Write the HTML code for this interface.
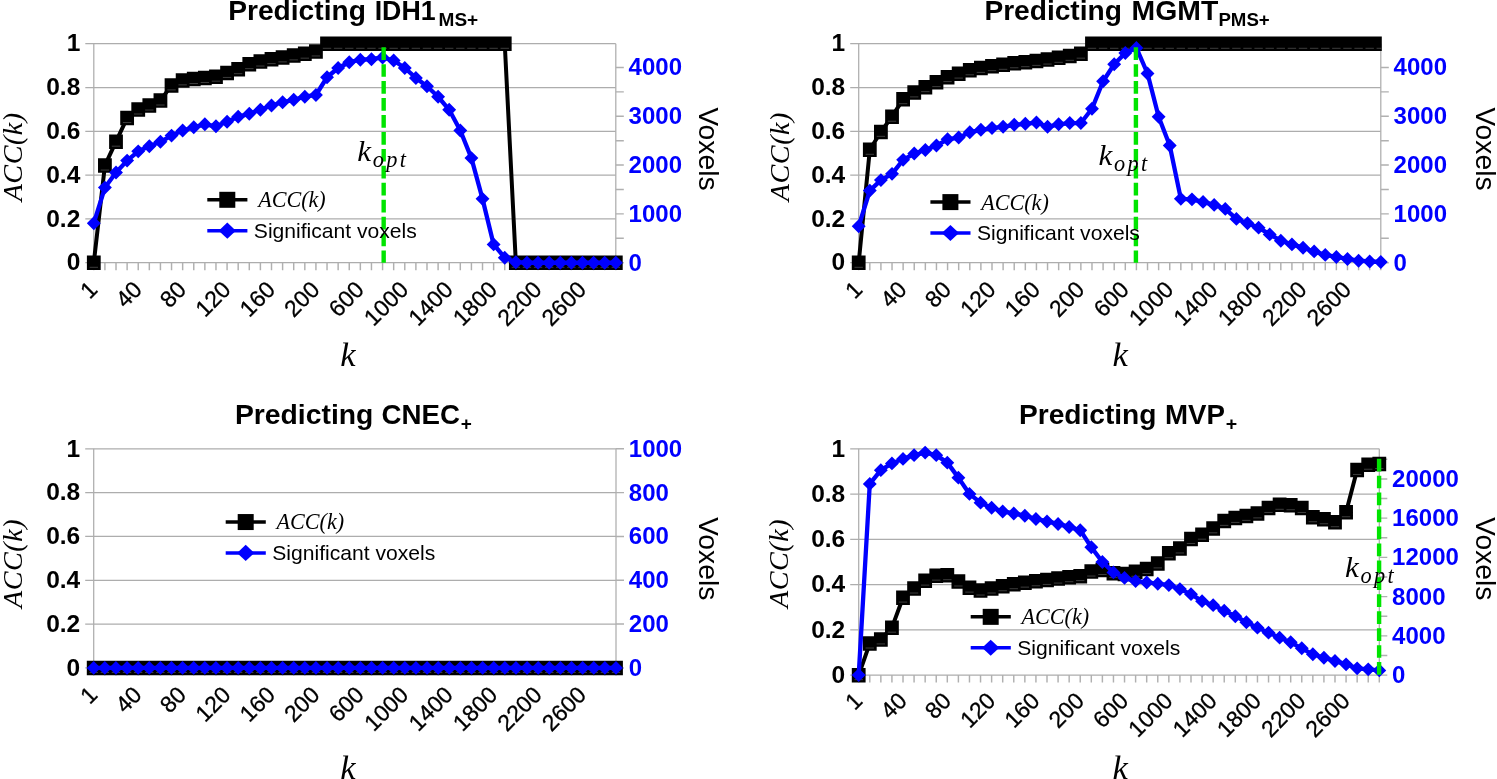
<!DOCTYPE html>
<html lang="en"><head><meta charset="utf-8"><title>Prediction accuracy and significant voxels</title>
<style>
html,body{margin:0;padding:0;background:#fff;}
body{width:1497px;height:779px;overflow:hidden;}
svg{display:block;}
</style></head><body>
<svg width="1497" height="779" viewBox="0 0 1497 779" style="filter:blur(0.35px)">
<rect width="1497" height="779" fill="#fff"/>
<line x1="85.3" y1="262.7" x2="615.8" y2="262.7" stroke="#adadad" stroke-width="1.25"/>
<line x1="85.3" y1="218.9" x2="615.8" y2="218.9" stroke="#adadad" stroke-width="1.25"/>
<line x1="85.3" y1="175.1" x2="615.8" y2="175.1" stroke="#adadad" stroke-width="1.25"/>
<line x1="85.3" y1="131.3" x2="615.8" y2="131.3" stroke="#adadad" stroke-width="1.25"/>
<line x1="85.3" y1="87.5" x2="615.8" y2="87.5" stroke="#adadad" stroke-width="1.25"/>
<line x1="85.3" y1="43.7" x2="615.8" y2="43.7" stroke="#adadad" stroke-width="1.25"/>
<line x1="93.8" y1="43.7" x2="93.8" y2="262.7" stroke="#adadad" stroke-width="1.25"/>
<line x1="615.8" y1="43.7" x2="615.8" y2="262.7" stroke="#adadad" stroke-width="1.25"/>
<path d="M93.8 262.7v7.5M104.91 262.7v7.5M116.01 262.7v7.5M127.12 262.7v7.5M138.23 262.7v7.5M149.33 262.7v7.5M160.44 262.7v7.5M171.54 262.7v7.5M182.65 262.7v7.5M193.76 262.7v7.5M204.86 262.7v7.5M215.97 262.7v7.5M227.08 262.7v7.5M238.18 262.7v7.5M249.29 262.7v7.5M260.4 262.7v7.5M271.5 262.7v7.5M282.61 262.7v7.5M293.71 262.7v7.5M304.82 262.7v7.5M315.93 262.7v7.5M327.03 262.7v7.5M338.14 262.7v7.5M349.25 262.7v7.5M360.35 262.7v7.5M371.46 262.7v7.5M382.57 262.7v7.5M393.67 262.7v7.5M404.78 262.7v7.5M415.89 262.7v7.5M426.99 262.7v7.5M438.1 262.7v7.5M449.2 262.7v7.5M460.31 262.7v7.5M471.42 262.7v7.5M482.52 262.7v7.5M493.63 262.7v7.5M504.74 262.7v7.5M515.84 262.7v7.5M526.95 262.7v7.5M538.06 262.7v7.5M549.16 262.7v7.5M560.27 262.7v7.5M571.37 262.7v7.5M582.48 262.7v7.5M593.59 262.7v7.5M604.69 262.7v7.5M615.8 262.7v7.5" stroke="#b0b0b0" stroke-width="1.45" fill="none"/>
<path d="M615.8 262.7h8M615.8 238.3h8M615.8 213.89h8M615.8 189.49h8M615.8 165.08h8M615.8 140.68h8M615.8 116.28h8M615.8 91.87h8M615.8 67.47h8" stroke="#b0b0b0" stroke-width="1.45" fill="none"/>
<text x="80.3" y="270.4" text-anchor="end" font-family="Liberation Sans, Arial, sans-serif" font-weight="bold" font-size="24.5">0</text>
<text x="80.3" y="226.6" text-anchor="end" font-family="Liberation Sans, Arial, sans-serif" font-weight="bold" font-size="24.5">0.2</text>
<text x="80.3" y="182.8" text-anchor="end" font-family="Liberation Sans, Arial, sans-serif" font-weight="bold" font-size="24.5">0.4</text>
<text x="80.3" y="139" text-anchor="end" font-family="Liberation Sans, Arial, sans-serif" font-weight="bold" font-size="24.5">0.6</text>
<text x="80.3" y="95.2" text-anchor="end" font-family="Liberation Sans, Arial, sans-serif" font-weight="bold" font-size="24.5">0.8</text>
<text x="80.3" y="51.4" text-anchor="end" font-family="Liberation Sans, Arial, sans-serif" font-weight="bold" font-size="24.5">1</text>
<text x="628.6" y="270.7" font-family="Liberation Sans, Arial, sans-serif" font-weight="bold" font-size="24" fill="#0000ff">0</text>
<text x="628.6" y="221.89" font-family="Liberation Sans, Arial, sans-serif" font-weight="bold" font-size="24" fill="#0000ff">1000</text>
<text x="628.6" y="173.08" font-family="Liberation Sans, Arial, sans-serif" font-weight="bold" font-size="24" fill="#0000ff">2000</text>
<text x="628.6" y="124.28" font-family="Liberation Sans, Arial, sans-serif" font-weight="bold" font-size="24" fill="#0000ff">3000</text>
<text x="628.6" y="75.47" font-family="Liberation Sans, Arial, sans-serif" font-weight="bold" font-size="24" fill="#0000ff">4000</text>
<text transform="translate(98.8,291) rotate(-45)" text-anchor="end" font-family="Liberation Sans, Arial, sans-serif" font-size="23" stroke="#000" stroke-width="0.3">1</text>
<text transform="translate(143.23,291) rotate(-45)" text-anchor="end" font-family="Liberation Sans, Arial, sans-serif" font-size="23" stroke="#000" stroke-width="0.3">40</text>
<text transform="translate(187.65,291) rotate(-45)" text-anchor="end" font-family="Liberation Sans, Arial, sans-serif" font-size="23" stroke="#000" stroke-width="0.3">80</text>
<text transform="translate(232.08,291) rotate(-45)" text-anchor="end" font-family="Liberation Sans, Arial, sans-serif" font-size="23" stroke="#000" stroke-width="0.3">120</text>
<text transform="translate(276.5,291) rotate(-45)" text-anchor="end" font-family="Liberation Sans, Arial, sans-serif" font-size="23" stroke="#000" stroke-width="0.3">160</text>
<text transform="translate(320.93,291) rotate(-45)" text-anchor="end" font-family="Liberation Sans, Arial, sans-serif" font-size="23" stroke="#000" stroke-width="0.3">200</text>
<text transform="translate(365.35,291) rotate(-45)" text-anchor="end" font-family="Liberation Sans, Arial, sans-serif" font-size="23" stroke="#000" stroke-width="0.3">600</text>
<text transform="translate(409.78,291) rotate(-45)" text-anchor="end" font-family="Liberation Sans, Arial, sans-serif" font-size="23" stroke="#000" stroke-width="0.3">1000</text>
<text transform="translate(454.2,291) rotate(-45)" text-anchor="end" font-family="Liberation Sans, Arial, sans-serif" font-size="23" stroke="#000" stroke-width="0.3">1400</text>
<text transform="translate(498.63,291) rotate(-45)" text-anchor="end" font-family="Liberation Sans, Arial, sans-serif" font-size="23" stroke="#000" stroke-width="0.3">1800</text>
<text transform="translate(543.06,291) rotate(-45)" text-anchor="end" font-family="Liberation Sans, Arial, sans-serif" font-size="23" stroke="#000" stroke-width="0.3">2200</text>
<text transform="translate(587.48,291) rotate(-45)" text-anchor="end" font-family="Liberation Sans, Arial, sans-serif" font-size="23" stroke="#000" stroke-width="0.3">2600</text>
<polyline points="93.8,262.7 104.91,165.46 116.01,141.59 127.12,117.94 138.23,109.4 149.33,105.46 160.44,100.42 171.54,85.31 182.65,80.27 193.76,78.96 204.86,77.86 215.97,76.55 227.08,72.83 238.18,69.1 249.29,64.07 260.4,61.44 271.5,59.03 282.61,57.28 293.71,55.31 304.82,53.56 315.93,51.37 327.03,43.7 338.14,43.7 349.25,43.7 360.35,43.7 371.46,43.7 382.57,43.7 393.67,43.7 404.78,43.7 415.89,43.7 426.99,43.7 438.1,43.7 449.2,43.7 460.31,43.7 471.42,43.7 482.52,43.7 493.63,43.7 504.74,43.7 515.84,262.7 526.95,262.7 538.06,262.7 549.16,262.7 560.27,262.7 571.37,262.7 582.48,262.7 593.59,262.7 604.69,262.7 615.8,262.7" fill="none" stroke="#000" stroke-width="4" stroke-linejoin="round"/>
<path d="M86.9 255.6h13.8v14.5h-13.8zM98.01 158.36h13.8v14.5h-13.8zM109.11 134.49h13.8v14.5h-13.8zM120.22 110.84h13.8v14.5h-13.8zM131.33 102.3h13.8v14.5h-13.8zM142.43 98.36h13.8v14.5h-13.8zM153.54 93.32h13.8v14.5h-13.8zM164.64 78.21h13.8v14.5h-13.8zM175.75 73.17h13.8v14.5h-13.8zM186.86 71.86h13.8v14.5h-13.8zM197.96 70.76h13.8v14.5h-13.8zM209.07 69.45h13.8v14.5h-13.8zM220.18 65.73h13.8v14.5h-13.8zM231.28 62h13.8v14.5h-13.8zM242.39 56.97h13.8v14.5h-13.8zM253.5 54.34h13.8v14.5h-13.8zM264.6 51.93h13.8v14.5h-13.8zM275.71 50.18h13.8v14.5h-13.8zM286.81 48.21h13.8v14.5h-13.8zM297.92 46.46h13.8v14.5h-13.8zM309.03 44.27h13.8v14.5h-13.8zM320.13 36.6h13.8v14.5h-13.8zM331.24 36.6h13.8v14.5h-13.8zM342.35 36.6h13.8v14.5h-13.8zM353.45 36.6h13.8v14.5h-13.8zM364.56 36.6h13.8v14.5h-13.8zM375.67 36.6h13.8v14.5h-13.8zM386.77 36.6h13.8v14.5h-13.8zM397.88 36.6h13.8v14.5h-13.8zM408.99 36.6h13.8v14.5h-13.8zM420.09 36.6h13.8v14.5h-13.8zM431.2 36.6h13.8v14.5h-13.8zM442.3 36.6h13.8v14.5h-13.8zM453.41 36.6h13.8v14.5h-13.8zM464.52 36.6h13.8v14.5h-13.8zM475.62 36.6h13.8v14.5h-13.8zM486.73 36.6h13.8v14.5h-13.8zM497.84 36.6h13.8v14.5h-13.8zM508.94 255.6h13.8v14.5h-13.8zM520.05 255.6h13.8v14.5h-13.8zM531.16 255.6h13.8v14.5h-13.8zM542.26 255.6h13.8v14.5h-13.8zM553.37 255.6h13.8v14.5h-13.8zM564.47 255.6h13.8v14.5h-13.8zM575.58 255.6h13.8v14.5h-13.8zM586.69 255.6h13.8v14.5h-13.8zM597.79 255.6h13.8v14.5h-13.8zM608.9 255.6h13.8v14.5h-13.8z" fill="#000"/><path d="M89.6 267.3h8.4M100.71 170.06h8.4M111.81 146.19h8.4M122.92 122.54h8.4M134.03 114h8.4M145.13 110.06h8.4M156.24 105.02h8.4M167.34 89.91h8.4M178.45 84.87h8.4M189.56 83.56h8.4M200.66 82.46h8.4M211.77 81.15h8.4M222.88 77.43h8.4M233.98 73.7h8.4M245.09 68.67h8.4M256.2 66.04h8.4M267.3 63.63h8.4M278.41 61.88h8.4M289.51 59.91h8.4M300.62 58.16h8.4M311.73 55.97h8.4M322.83 48.3h8.4M333.94 48.3h8.4M345.05 48.3h8.4M356.15 48.3h8.4M367.26 48.3h8.4M378.37 48.3h8.4M389.47 48.3h8.4M400.58 48.3h8.4M411.69 48.3h8.4M422.79 48.3h8.4M433.9 48.3h8.4M445 48.3h8.4M456.11 48.3h8.4M467.22 48.3h8.4M478.32 48.3h8.4M489.43 48.3h8.4M500.54 48.3h8.4M511.64 267.3h8.4M522.75 267.3h8.4M533.86 267.3h8.4M544.96 267.3h8.4M556.07 267.3h8.4M567.17 267.3h8.4M578.28 267.3h8.4M589.39 267.3h8.4M600.49 267.3h8.4M611.6 267.3h8.4" stroke="#484848" stroke-width="0.85" fill="none"/>
<polyline points="93.8,223.18 104.91,187.59 116.01,172.57 127.12,160.61 138.23,151.33 149.33,146.32 160.44,141.8 171.54,135.58 182.65,130.57 193.76,127.31 204.86,124.3 215.97,126.29 227.08,121.77 238.18,116.77 249.29,113.8 260.4,109.77 271.5,105.54 282.61,102.28 293.71,99.75 304.82,96.74 315.93,94.99 327.03,77.24 338.14,68.01 349.25,62.22 360.35,59.74 371.46,59.21 382.57,57.46 393.67,60.47 404.78,68.01 415.89,77.97 426.99,86.24 438.1,96.74 449.2,109.77 460.31,130.57 471.42,158.09 482.52,198.87 493.63,244.42 504.74,257.69 515.84,262.21 526.95,262.7 538.06,262.7 549.16,262.7 560.27,262.7 571.37,262.7 582.48,262.7 593.59,262.7 604.69,262.7 615.8,262.7" fill="none" stroke="#0000ff" stroke-width="4.3" stroke-linejoin="round"/>
<path d="M86.85 223.18l6.95 -6.95l6.95 6.95l-6.95 6.95zM97.96 187.59l6.95 -6.95l6.95 6.95l-6.95 6.95zM109.06 172.57l6.95 -6.95l6.95 6.95l-6.95 6.95zM120.17 160.61l6.95 -6.95l6.95 6.95l-6.95 6.95zM131.28 151.33l6.95 -6.95l6.95 6.95l-6.95 6.95zM142.38 146.32l6.95 -6.95l6.95 6.95l-6.95 6.95zM153.49 141.8l6.95 -6.95l6.95 6.95l-6.95 6.95zM164.59 135.58l6.95 -6.95l6.95 6.95l-6.95 6.95zM175.7 130.57l6.95 -6.95l6.95 6.95l-6.95 6.95zM186.81 127.31l6.95 -6.95l6.95 6.95l-6.95 6.95zM197.91 124.3l6.95 -6.95l6.95 6.95l-6.95 6.95zM209.02 126.29l6.95 -6.95l6.95 6.95l-6.95 6.95zM220.13 121.77l6.95 -6.95l6.95 6.95l-6.95 6.95zM231.23 116.77l6.95 -6.95l6.95 6.95l-6.95 6.95zM242.34 113.8l6.95 -6.95l6.95 6.95l-6.95 6.95zM253.45 109.77l6.95 -6.95l6.95 6.95l-6.95 6.95zM264.55 105.54l6.95 -6.95l6.95 6.95l-6.95 6.95zM275.66 102.28l6.95 -6.95l6.95 6.95l-6.95 6.95zM286.76 99.75l6.95 -6.95l6.95 6.95l-6.95 6.95zM297.87 96.74l6.95 -6.95l6.95 6.95l-6.95 6.95zM308.98 94.99l6.95 -6.95l6.95 6.95l-6.95 6.95zM320.08 77.24l6.95 -6.95l6.95 6.95l-6.95 6.95zM331.19 68.01l6.95 -6.95l6.95 6.95l-6.95 6.95zM342.3 62.22l6.95 -6.95l6.95 6.95l-6.95 6.95zM353.4 59.74l6.95 -6.95l6.95 6.95l-6.95 6.95zM364.51 59.21l6.95 -6.95l6.95 6.95l-6.95 6.95zM375.62 57.46l6.95 -6.95l6.95 6.95l-6.95 6.95zM386.72 60.47l6.95 -6.95l6.95 6.95l-6.95 6.95zM397.83 68.01l6.95 -6.95l6.95 6.95l-6.95 6.95zM408.94 77.97l6.95 -6.95l6.95 6.95l-6.95 6.95zM420.04 86.24l6.95 -6.95l6.95 6.95l-6.95 6.95zM431.15 96.74l6.95 -6.95l6.95 6.95l-6.95 6.95zM442.25 109.77l6.95 -6.95l6.95 6.95l-6.95 6.95zM453.36 130.57l6.95 -6.95l6.95 6.95l-6.95 6.95zM464.47 158.09l6.95 -6.95l6.95 6.95l-6.95 6.95zM475.57 198.87l6.95 -6.95l6.95 6.95l-6.95 6.95zM486.68 244.42l6.95 -6.95l6.95 6.95l-6.95 6.95zM497.79 257.69l6.95 -6.95l6.95 6.95l-6.95 6.95zM508.89 262.21l6.95 -6.95l6.95 6.95l-6.95 6.95zM520 262.7l6.95 -6.95l6.95 6.95l-6.95 6.95zM531.11 262.7l6.95 -6.95l6.95 6.95l-6.95 6.95zM542.21 262.7l6.95 -6.95l6.95 6.95l-6.95 6.95zM553.32 262.7l6.95 -6.95l6.95 6.95l-6.95 6.95zM564.42 262.7l6.95 -6.95l6.95 6.95l-6.95 6.95zM575.53 262.7l6.95 -6.95l6.95 6.95l-6.95 6.95zM586.64 262.7l6.95 -6.95l6.95 6.95l-6.95 6.95zM597.74 262.7l6.95 -6.95l6.95 6.95l-6.95 6.95zM608.85 262.7l6.95 -6.95l6.95 6.95l-6.95 6.95z" fill="#0000ff"/>
<line x1="383.67" y1="47.2" x2="383.67" y2="262.7" stroke="#00e400" stroke-width="4.4" stroke-dasharray="12.7 4.25"/>
<text transform="translate(357.2,160.6) scale(1.08,1)" font-family="Liberation Serif, Times New Roman, serif" font-style="italic" font-size="28.7">k</text>
<text x="372.8" y="166.5" font-family="Liberation Serif, Times New Roman, serif" font-style="italic" font-size="22.3" letter-spacing="2.3">opt</text>
<line x1="207.3" y1="199.8" x2="247.4" y2="199.8" stroke="#000" stroke-width="3.5"/>
<rect x="219.3" y="191.8" width="16" height="16" fill="#000"/>
<text x="258.2" y="207.2" font-family="Liberation Serif, Times New Roman, serif" font-style="italic" font-size="22.1">ACC(k)</text>
<line x1="207.3" y1="230.7" x2="247.4" y2="230.7" stroke="#0000ff" stroke-width="3.5"/>
<path d="M218.7 230.7l8.6 -8.1l8.6 8.1l-8.6 8.1z" fill="#0000ff"/>
<text x="253.85" y="238.1" font-family="Liberation Sans, Arial, sans-serif" font-size="21.1">Significant voxels</text>
<text transform="translate(228.23,20.3) scale(1.0000,1)" font-family="Liberation Sans, Arial, sans-serif" font-weight="bold" font-size="28.15">Predicting</text>
<text transform="translate(374.66,20.3) scale(0.9510,1)" font-family="Liberation Sans, Arial, sans-serif" font-weight="bold" font-size="28.15">IDH1</text>
<text transform="translate(438.56,26.05) scale(1.0237,1)" font-family="Liberation Sans, Arial, sans-serif" font-weight="bold" font-size="18.6">MS+</text>
<text transform="translate(22.2,156.8) rotate(-90)" text-anchor="middle" font-family="Liberation Serif, Times New Roman, serif" font-style="italic" font-size="28.2" letter-spacing="0.5">ACC(k)</text>
<text x="340.3" y="365.8" font-family="Liberation Serif, Times New Roman, serif" font-style="italic" font-size="34.5">k</text>
<text transform="translate(698.6,148.9) rotate(90)" text-anchor="middle" font-family="Liberation Sans, Arial, sans-serif" font-size="28.3">Voxels</text>
<line x1="850.2" y1="262.7" x2="1380.8" y2="262.7" stroke="#adadad" stroke-width="1.25"/>
<line x1="850.2" y1="218.9" x2="1380.8" y2="218.9" stroke="#adadad" stroke-width="1.25"/>
<line x1="850.2" y1="175.1" x2="1380.8" y2="175.1" stroke="#adadad" stroke-width="1.25"/>
<line x1="850.2" y1="131.3" x2="1380.8" y2="131.3" stroke="#adadad" stroke-width="1.25"/>
<line x1="850.2" y1="87.5" x2="1380.8" y2="87.5" stroke="#adadad" stroke-width="1.25"/>
<line x1="850.2" y1="43.7" x2="1380.8" y2="43.7" stroke="#adadad" stroke-width="1.25"/>
<line x1="858.7" y1="43.7" x2="858.7" y2="262.7" stroke="#adadad" stroke-width="1.25"/>
<line x1="1380.8" y1="43.7" x2="1380.8" y2="262.7" stroke="#adadad" stroke-width="1.25"/>
<path d="M858.7 262.7v7.5M869.81 262.7v7.5M880.92 262.7v7.5M892.03 262.7v7.5M903.13 262.7v7.5M914.24 262.7v7.5M925.35 262.7v7.5M936.46 262.7v7.5M947.57 262.7v7.5M958.68 262.7v7.5M969.79 262.7v7.5M980.89 262.7v7.5M992 262.7v7.5M1003.11 262.7v7.5M1014.22 262.7v7.5M1025.33 262.7v7.5M1036.44 262.7v7.5M1047.54 262.7v7.5M1058.65 262.7v7.5M1069.76 262.7v7.5M1080.87 262.7v7.5M1091.98 262.7v7.5M1103.09 262.7v7.5M1114.2 262.7v7.5M1125.3 262.7v7.5M1136.41 262.7v7.5M1147.52 262.7v7.5M1158.63 262.7v7.5M1169.74 262.7v7.5M1180.85 262.7v7.5M1191.96 262.7v7.5M1203.06 262.7v7.5M1214.17 262.7v7.5M1225.28 262.7v7.5M1236.39 262.7v7.5M1247.5 262.7v7.5M1258.61 262.7v7.5M1269.71 262.7v7.5M1280.82 262.7v7.5M1291.93 262.7v7.5M1303.04 262.7v7.5M1314.15 262.7v7.5M1325.26 262.7v7.5M1336.37 262.7v7.5M1347.47 262.7v7.5M1358.58 262.7v7.5M1369.69 262.7v7.5M1380.8 262.7v7.5" stroke="#b0b0b0" stroke-width="1.45" fill="none"/>
<path d="M1380.8 262.7h8M1380.8 238.3h8M1380.8 213.89h8M1380.8 189.49h8M1380.8 165.08h8M1380.8 140.68h8M1380.8 116.28h8M1380.8 91.87h8M1380.8 67.47h8" stroke="#b0b0b0" stroke-width="1.45" fill="none"/>
<text x="845.2" y="270.4" text-anchor="end" font-family="Liberation Sans, Arial, sans-serif" font-weight="bold" font-size="24.5">0</text>
<text x="845.2" y="226.6" text-anchor="end" font-family="Liberation Sans, Arial, sans-serif" font-weight="bold" font-size="24.5">0.2</text>
<text x="845.2" y="182.8" text-anchor="end" font-family="Liberation Sans, Arial, sans-serif" font-weight="bold" font-size="24.5">0.4</text>
<text x="845.2" y="139" text-anchor="end" font-family="Liberation Sans, Arial, sans-serif" font-weight="bold" font-size="24.5">0.6</text>
<text x="845.2" y="95.2" text-anchor="end" font-family="Liberation Sans, Arial, sans-serif" font-weight="bold" font-size="24.5">0.8</text>
<text x="845.2" y="51.4" text-anchor="end" font-family="Liberation Sans, Arial, sans-serif" font-weight="bold" font-size="24.5">1</text>
<text x="1393.6" y="270.7" font-family="Liberation Sans, Arial, sans-serif" font-weight="bold" font-size="24" fill="#0000ff">0</text>
<text x="1393.6" y="221.89" font-family="Liberation Sans, Arial, sans-serif" font-weight="bold" font-size="24" fill="#0000ff">1000</text>
<text x="1393.6" y="173.08" font-family="Liberation Sans, Arial, sans-serif" font-weight="bold" font-size="24" fill="#0000ff">2000</text>
<text x="1393.6" y="124.28" font-family="Liberation Sans, Arial, sans-serif" font-weight="bold" font-size="24" fill="#0000ff">3000</text>
<text x="1393.6" y="75.47" font-family="Liberation Sans, Arial, sans-serif" font-weight="bold" font-size="24" fill="#0000ff">4000</text>
<text transform="translate(863.7,291) rotate(-45)" text-anchor="end" font-family="Liberation Sans, Arial, sans-serif" font-size="23" stroke="#000" stroke-width="0.3">1</text>
<text transform="translate(908.13,291) rotate(-45)" text-anchor="end" font-family="Liberation Sans, Arial, sans-serif" font-size="23" stroke="#000" stroke-width="0.3">40</text>
<text transform="translate(952.57,291) rotate(-45)" text-anchor="end" font-family="Liberation Sans, Arial, sans-serif" font-size="23" stroke="#000" stroke-width="0.3">80</text>
<text transform="translate(997,291) rotate(-45)" text-anchor="end" font-family="Liberation Sans, Arial, sans-serif" font-size="23" stroke="#000" stroke-width="0.3">120</text>
<text transform="translate(1041.44,291) rotate(-45)" text-anchor="end" font-family="Liberation Sans, Arial, sans-serif" font-size="23" stroke="#000" stroke-width="0.3">160</text>
<text transform="translate(1085.87,291) rotate(-45)" text-anchor="end" font-family="Liberation Sans, Arial, sans-serif" font-size="23" stroke="#000" stroke-width="0.3">200</text>
<text transform="translate(1130.3,291) rotate(-45)" text-anchor="end" font-family="Liberation Sans, Arial, sans-serif" font-size="23" stroke="#000" stroke-width="0.3">600</text>
<text transform="translate(1174.74,291) rotate(-45)" text-anchor="end" font-family="Liberation Sans, Arial, sans-serif" font-size="23" stroke="#000" stroke-width="0.3">1000</text>
<text transform="translate(1219.17,291) rotate(-45)" text-anchor="end" font-family="Liberation Sans, Arial, sans-serif" font-size="23" stroke="#000" stroke-width="0.3">1400</text>
<text transform="translate(1263.61,291) rotate(-45)" text-anchor="end" font-family="Liberation Sans, Arial, sans-serif" font-size="23" stroke="#000" stroke-width="0.3">1800</text>
<text transform="translate(1308.04,291) rotate(-45)" text-anchor="end" font-family="Liberation Sans, Arial, sans-serif" font-size="23" stroke="#000" stroke-width="0.3">2200</text>
<text transform="translate(1352.47,291) rotate(-45)" text-anchor="end" font-family="Liberation Sans, Arial, sans-serif" font-size="23" stroke="#000" stroke-width="0.3">2600</text>
<polyline points="858.7,262.7 869.81,149.7 880.92,131.74 892.03,116.63 903.13,99.11 914.24,92.32 925.35,87.06 936.46,82.03 947.57,76.99 958.68,73.48 969.79,70.2 980.89,67.79 992,66.04 1003.11,64.72 1014.22,63.19 1025.33,62.1 1036.44,60.78 1047.54,59.47 1058.65,57.72 1069.76,55.75 1080.87,53.56 1091.98,43.7 1103.09,43.7 1114.2,43.7 1125.3,43.7 1136.41,43.7 1147.52,43.7 1158.63,43.7 1169.74,43.7 1180.85,43.7 1191.96,43.7 1203.06,43.7 1214.17,43.7 1225.28,43.7 1236.39,43.7 1247.5,43.7 1258.61,43.7 1269.71,43.7 1280.82,43.7 1291.93,43.7 1303.04,43.7 1314.15,43.7 1325.26,43.7 1336.37,43.7 1347.47,43.7 1358.58,43.7 1369.69,43.7 1380.8,43.7" fill="none" stroke="#000" stroke-width="4" stroke-linejoin="round"/>
<clipPath id="p2c"><rect x="0" y="0" width="1381.8" height="779"/></clipPath>
<g clip-path="url(#p2c)"><path d="M851.8 255.6h13.8v14.5h-13.8zM862.91 142.6h13.8v14.5h-13.8zM874.02 124.64h13.8v14.5h-13.8zM885.13 109.53h13.8v14.5h-13.8zM896.23 92.01h13.8v14.5h-13.8zM907.34 85.22h13.8v14.5h-13.8zM918.45 79.96h13.8v14.5h-13.8zM929.56 74.93h13.8v14.5h-13.8zM940.67 69.89h13.8v14.5h-13.8zM951.78 66.38h13.8v14.5h-13.8zM962.89 63.1h13.8v14.5h-13.8zM973.99 60.69h13.8v14.5h-13.8zM985.1 58.94h13.8v14.5h-13.8zM996.21 57.62h13.8v14.5h-13.8zM1007.32 56.09h13.8v14.5h-13.8zM1018.43 55h13.8v14.5h-13.8zM1029.54 53.68h13.8v14.5h-13.8zM1040.64 52.37h13.8v14.5h-13.8zM1051.75 50.62h13.8v14.5h-13.8zM1062.86 48.65h13.8v14.5h-13.8zM1073.97 46.46h13.8v14.5h-13.8zM1085.08 36.6h13.8v14.5h-13.8zM1096.19 36.6h13.8v14.5h-13.8zM1107.3 36.6h13.8v14.5h-13.8zM1118.4 36.6h13.8v14.5h-13.8zM1129.51 36.6h13.8v14.5h-13.8zM1140.62 36.6h13.8v14.5h-13.8zM1151.73 36.6h13.8v14.5h-13.8zM1162.84 36.6h13.8v14.5h-13.8zM1173.95 36.6h13.8v14.5h-13.8zM1185.06 36.6h13.8v14.5h-13.8zM1196.16 36.6h13.8v14.5h-13.8zM1207.27 36.6h13.8v14.5h-13.8zM1218.38 36.6h13.8v14.5h-13.8zM1229.49 36.6h13.8v14.5h-13.8zM1240.6 36.6h13.8v14.5h-13.8zM1251.71 36.6h13.8v14.5h-13.8zM1262.81 36.6h13.8v14.5h-13.8zM1273.92 36.6h13.8v14.5h-13.8zM1285.03 36.6h13.8v14.5h-13.8zM1296.14 36.6h13.8v14.5h-13.8zM1307.25 36.6h13.8v14.5h-13.8zM1318.36 36.6h13.8v14.5h-13.8zM1329.47 36.6h13.8v14.5h-13.8zM1340.57 36.6h13.8v14.5h-13.8zM1351.68 36.6h13.8v14.5h-13.8zM1362.79 36.6h13.8v14.5h-13.8zM1373.9 36.6h13.8v14.5h-13.8z" fill="#000"/><path d="M854.5 267.3h8.4M865.61 154.3h8.4M876.72 136.34h8.4M887.83 121.23h8.4M898.93 103.71h8.4M910.04 96.92h8.4M921.15 91.66h8.4M932.26 86.62h8.4M943.37 81.59h8.4M954.48 78.08h8.4M965.59 74.8h8.4M976.69 72.39h8.4M987.8 70.64h8.4M998.91 69.32h8.4M1010.02 67.79h8.4M1021.13 66.7h8.4M1032.24 65.38h8.4M1043.34 64.07h8.4M1054.45 62.32h8.4M1065.56 60.35h8.4M1076.67 58.16h8.4M1087.78 48.3h8.4M1098.89 48.3h8.4M1110 48.3h8.4M1121.1 48.3h8.4M1132.21 48.3h8.4M1143.32 48.3h8.4M1154.43 48.3h8.4M1165.54 48.3h8.4M1176.65 48.3h8.4M1187.76 48.3h8.4M1198.86 48.3h8.4M1209.97 48.3h8.4M1221.08 48.3h8.4M1232.19 48.3h8.4M1243.3 48.3h8.4M1254.41 48.3h8.4M1265.51 48.3h8.4M1276.62 48.3h8.4M1287.73 48.3h8.4M1298.84 48.3h8.4M1309.95 48.3h8.4M1321.06 48.3h8.4M1332.17 48.3h8.4M1343.27 48.3h8.4M1354.38 48.3h8.4M1365.49 48.3h8.4M1376.6 48.3h8.4" stroke="#484848" stroke-width="0.85" fill="none"/></g>
<polyline points="858.7,226.24 869.81,190.61 880.92,180.11 892.03,173.84 903.13,159.84 914.24,153.57 925.35,150.06 936.46,145.54 947.57,139.32 958.68,137.57 969.79,132.32 980.89,129.79 992,128.04 1003.11,126.78 1014.22,124.79 1025.33,123.77 1036.44,122.55 1047.54,126.78 1058.65,124.3 1069.76,123.04 1080.87,123.04 1091.98,108.79 1103.09,81.23 1114.2,64.22 1125.3,52.94 1136.41,47.93 1147.52,73.5 1158.63,116.77 1169.74,145.54 1180.85,198.87 1191.96,199.36 1203.06,201.89 1214.17,204.9 1225.28,208.89 1236.39,218.9 1247.5,223.18 1258.61,227.65 1269.71,234.41 1280.82,240.68 1291.93,244.42 1303.04,247.68 1314.15,251.42 1325.26,254.92 1336.37,256.96 1347.47,258.96 1358.58,260.71 1369.69,261.44 1380.8,261.97" fill="none" stroke="#0000ff" stroke-width="4.3" stroke-linejoin="round"/>
<path d="M851.75 226.24l6.95 -6.95l6.95 6.95l-6.95 6.95zM862.86 190.61l6.95 -6.95l6.95 6.95l-6.95 6.95zM873.97 180.11l6.95 -6.95l6.95 6.95l-6.95 6.95zM885.08 173.84l6.95 -6.95l6.95 6.95l-6.95 6.95zM896.18 159.84l6.95 -6.95l6.95 6.95l-6.95 6.95zM907.29 153.57l6.95 -6.95l6.95 6.95l-6.95 6.95zM918.4 150.06l6.95 -6.95l6.95 6.95l-6.95 6.95zM929.51 145.54l6.95 -6.95l6.95 6.95l-6.95 6.95zM940.62 139.32l6.95 -6.95l6.95 6.95l-6.95 6.95zM951.73 137.57l6.95 -6.95l6.95 6.95l-6.95 6.95zM962.84 132.32l6.95 -6.95l6.95 6.95l-6.95 6.95zM973.94 129.79l6.95 -6.95l6.95 6.95l-6.95 6.95zM985.05 128.04l6.95 -6.95l6.95 6.95l-6.95 6.95zM996.16 126.78l6.95 -6.95l6.95 6.95l-6.95 6.95zM1007.27 124.79l6.95 -6.95l6.95 6.95l-6.95 6.95zM1018.38 123.77l6.95 -6.95l6.95 6.95l-6.95 6.95zM1029.49 122.55l6.95 -6.95l6.95 6.95l-6.95 6.95zM1040.59 126.78l6.95 -6.95l6.95 6.95l-6.95 6.95zM1051.7 124.3l6.95 -6.95l6.95 6.95l-6.95 6.95zM1062.81 123.04l6.95 -6.95l6.95 6.95l-6.95 6.95zM1073.92 123.04l6.95 -6.95l6.95 6.95l-6.95 6.95zM1085.03 108.79l6.95 -6.95l6.95 6.95l-6.95 6.95zM1096.14 81.23l6.95 -6.95l6.95 6.95l-6.95 6.95zM1107.25 64.22l6.95 -6.95l6.95 6.95l-6.95 6.95zM1118.35 52.94l6.95 -6.95l6.95 6.95l-6.95 6.95zM1129.46 47.93l6.95 -6.95l6.95 6.95l-6.95 6.95zM1140.57 73.5l6.95 -6.95l6.95 6.95l-6.95 6.95zM1151.68 116.77l6.95 -6.95l6.95 6.95l-6.95 6.95zM1162.79 145.54l6.95 -6.95l6.95 6.95l-6.95 6.95zM1173.9 198.87l6.95 -6.95l6.95 6.95l-6.95 6.95zM1185.01 199.36l6.95 -6.95l6.95 6.95l-6.95 6.95zM1196.11 201.89l6.95 -6.95l6.95 6.95l-6.95 6.95zM1207.22 204.9l6.95 -6.95l6.95 6.95l-6.95 6.95zM1218.33 208.89l6.95 -6.95l6.95 6.95l-6.95 6.95zM1229.44 218.9l6.95 -6.95l6.95 6.95l-6.95 6.95zM1240.55 223.18l6.95 -6.95l6.95 6.95l-6.95 6.95zM1251.66 227.65l6.95 -6.95l6.95 6.95l-6.95 6.95zM1262.76 234.41l6.95 -6.95l6.95 6.95l-6.95 6.95zM1273.87 240.68l6.95 -6.95l6.95 6.95l-6.95 6.95zM1284.98 244.42l6.95 -6.95l6.95 6.95l-6.95 6.95zM1296.09 247.68l6.95 -6.95l6.95 6.95l-6.95 6.95zM1307.2 251.42l6.95 -6.95l6.95 6.95l-6.95 6.95zM1318.31 254.92l6.95 -6.95l6.95 6.95l-6.95 6.95zM1329.42 256.96l6.95 -6.95l6.95 6.95l-6.95 6.95zM1340.52 258.96l6.95 -6.95l6.95 6.95l-6.95 6.95zM1351.63 260.71l6.95 -6.95l6.95 6.95l-6.95 6.95zM1362.74 261.44l6.95 -6.95l6.95 6.95l-6.95 6.95zM1373.85 261.97l6.95 -6.95l6.95 6.95l-6.95 6.95z" fill="#0000ff"/>
<line x1="1135.91" y1="47.2" x2="1135.91" y2="262.7" stroke="#00e400" stroke-width="4.4" stroke-dasharray="12.7 4.25"/>
<text transform="translate(1098.4,164.7) scale(1.08,1)" font-family="Liberation Serif, Times New Roman, serif" font-style="italic" font-size="28.7">k</text>
<text x="1114" y="170.6" font-family="Liberation Serif, Times New Roman, serif" font-style="italic" font-size="22.3" letter-spacing="2.3">opt</text>
<line x1="930.4" y1="202.1" x2="970.5" y2="202.1" stroke="#000" stroke-width="3.5"/>
<rect x="942.4" y="194.1" width="16" height="16" fill="#000"/>
<text x="981.3" y="209.5" font-family="Liberation Serif, Times New Roman, serif" font-style="italic" font-size="22.1">ACC(k)</text>
<line x1="930.4" y1="233" x2="970.5" y2="233" stroke="#0000ff" stroke-width="3.5"/>
<path d="M941.8 233l8.6 -8.1l8.6 8.1l-8.6 8.1z" fill="#0000ff"/>
<text x="976.95" y="240.4" font-family="Liberation Sans, Arial, sans-serif" font-size="21.1">Significant voxels</text>
<text transform="translate(984.42,20.3) scale(0.9993,1)" font-family="Liberation Sans, Arial, sans-serif" font-weight="bold" font-size="28.15">Predicting</text>
<text transform="translate(1131.55,20.3) scale(1.0085,1)" font-family="Liberation Sans, Arial, sans-serif" font-weight="bold" font-size="28.15">MGMT</text>
<text transform="translate(1218.39,26.05) scale(1.0043,1)" font-family="Liberation Sans, Arial, sans-serif" font-weight="bold" font-size="18.6">PMS+</text>
<text transform="translate(788.8,156.6) rotate(-90)" text-anchor="middle" font-family="Liberation Serif, Times New Roman, serif" font-style="italic" font-size="28.2" letter-spacing="0.5">ACC(k)</text>
<text x="1112.5" y="365.8" font-family="Liberation Serif, Times New Roman, serif" font-style="italic" font-size="34.5">k</text>
<text transform="translate(1475.5,148.9) rotate(90)" text-anchor="middle" font-family="Liberation Sans, Arial, sans-serif" font-size="28.3">Voxels</text>
<line x1="85.2" y1="667.9" x2="616" y2="667.9" stroke="#adadad" stroke-width="1.25"/>
<line x1="85.2" y1="624.08" x2="616" y2="624.08" stroke="#adadad" stroke-width="1.25"/>
<line x1="85.2" y1="580.26" x2="616" y2="580.26" stroke="#adadad" stroke-width="1.25"/>
<line x1="85.2" y1="536.44" x2="616" y2="536.44" stroke="#adadad" stroke-width="1.25"/>
<line x1="85.2" y1="492.62" x2="616" y2="492.62" stroke="#adadad" stroke-width="1.25"/>
<line x1="85.2" y1="448.8" x2="616" y2="448.8" stroke="#adadad" stroke-width="1.25"/>
<line x1="93.7" y1="448.8" x2="93.7" y2="667.9" stroke="#adadad" stroke-width="1.25"/>
<line x1="616" y1="448.8" x2="616" y2="667.9" stroke="#adadad" stroke-width="1.25"/>
<path d="M93.7 667.9v7.5M104.81 667.9v7.5M115.93 667.9v7.5M127.04 667.9v7.5M138.15 667.9v7.5M149.26 667.9v7.5M160.38 667.9v7.5M171.49 667.9v7.5M182.6 667.9v7.5M193.71 667.9v7.5M204.83 667.9v7.5M215.94 667.9v7.5M227.05 667.9v7.5M238.17 667.9v7.5M249.28 667.9v7.5M260.39 667.9v7.5M271.5 667.9v7.5M282.62 667.9v7.5M293.73 667.9v7.5M304.84 667.9v7.5M315.96 667.9v7.5M327.07 667.9v7.5M338.18 667.9v7.5M349.29 667.9v7.5M360.41 667.9v7.5M371.52 667.9v7.5M382.63 667.9v7.5M393.74 667.9v7.5M404.86 667.9v7.5M415.97 667.9v7.5M427.08 667.9v7.5M438.2 667.9v7.5M449.31 667.9v7.5M460.42 667.9v7.5M471.53 667.9v7.5M482.65 667.9v7.5M493.76 667.9v7.5M504.87 667.9v7.5M515.99 667.9v7.5M527.1 667.9v7.5M538.21 667.9v7.5M549.32 667.9v7.5M560.44 667.9v7.5M571.55 667.9v7.5M582.66 667.9v7.5M593.77 667.9v7.5M604.89 667.9v7.5M616 667.9v7.5" stroke="#b0b0b0" stroke-width="1.45" fill="none"/>
<path d="M616 667.9h8M616 624.08h8M616 580.26h8M616 536.44h8M616 492.62h8M616 448.8h8" stroke="#b0b0b0" stroke-width="1.45" fill="none"/>
<text x="80.2" y="675.6" text-anchor="end" font-family="Liberation Sans, Arial, sans-serif" font-weight="bold" font-size="24.5">0</text>
<text x="80.2" y="631.78" text-anchor="end" font-family="Liberation Sans, Arial, sans-serif" font-weight="bold" font-size="24.5">0.2</text>
<text x="80.2" y="587.96" text-anchor="end" font-family="Liberation Sans, Arial, sans-serif" font-weight="bold" font-size="24.5">0.4</text>
<text x="80.2" y="544.14" text-anchor="end" font-family="Liberation Sans, Arial, sans-serif" font-weight="bold" font-size="24.5">0.6</text>
<text x="80.2" y="500.32" text-anchor="end" font-family="Liberation Sans, Arial, sans-serif" font-weight="bold" font-size="24.5">0.8</text>
<text x="80.2" y="456.5" text-anchor="end" font-family="Liberation Sans, Arial, sans-serif" font-weight="bold" font-size="24.5">1</text>
<text x="628.8" y="675.9" font-family="Liberation Sans, Arial, sans-serif" font-weight="bold" font-size="24" fill="#0000ff">0</text>
<text x="628.8" y="632.08" font-family="Liberation Sans, Arial, sans-serif" font-weight="bold" font-size="24" fill="#0000ff">200</text>
<text x="628.8" y="588.26" font-family="Liberation Sans, Arial, sans-serif" font-weight="bold" font-size="24" fill="#0000ff">400</text>
<text x="628.8" y="544.44" font-family="Liberation Sans, Arial, sans-serif" font-weight="bold" font-size="24" fill="#0000ff">600</text>
<text x="628.8" y="500.62" font-family="Liberation Sans, Arial, sans-serif" font-weight="bold" font-size="24" fill="#0000ff">800</text>
<text x="628.8" y="456.8" font-family="Liberation Sans, Arial, sans-serif" font-weight="bold" font-size="24" fill="#0000ff">1000</text>
<text transform="translate(98.7,696.2) rotate(-45)" text-anchor="end" font-family="Liberation Sans, Arial, sans-serif" font-size="23" stroke="#000" stroke-width="0.3">1</text>
<text transform="translate(143.15,696.2) rotate(-45)" text-anchor="end" font-family="Liberation Sans, Arial, sans-serif" font-size="23" stroke="#000" stroke-width="0.3">40</text>
<text transform="translate(187.6,696.2) rotate(-45)" text-anchor="end" font-family="Liberation Sans, Arial, sans-serif" font-size="23" stroke="#000" stroke-width="0.3">80</text>
<text transform="translate(232.05,696.2) rotate(-45)" text-anchor="end" font-family="Liberation Sans, Arial, sans-serif" font-size="23" stroke="#000" stroke-width="0.3">120</text>
<text transform="translate(276.5,696.2) rotate(-45)" text-anchor="end" font-family="Liberation Sans, Arial, sans-serif" font-size="23" stroke="#000" stroke-width="0.3">160</text>
<text transform="translate(320.96,696.2) rotate(-45)" text-anchor="end" font-family="Liberation Sans, Arial, sans-serif" font-size="23" stroke="#000" stroke-width="0.3">200</text>
<text transform="translate(365.41,696.2) rotate(-45)" text-anchor="end" font-family="Liberation Sans, Arial, sans-serif" font-size="23" stroke="#000" stroke-width="0.3">600</text>
<text transform="translate(409.86,696.2) rotate(-45)" text-anchor="end" font-family="Liberation Sans, Arial, sans-serif" font-size="23" stroke="#000" stroke-width="0.3">1000</text>
<text transform="translate(454.31,696.2) rotate(-45)" text-anchor="end" font-family="Liberation Sans, Arial, sans-serif" font-size="23" stroke="#000" stroke-width="0.3">1400</text>
<text transform="translate(498.76,696.2) rotate(-45)" text-anchor="end" font-family="Liberation Sans, Arial, sans-serif" font-size="23" stroke="#000" stroke-width="0.3">1800</text>
<text transform="translate(543.21,696.2) rotate(-45)" text-anchor="end" font-family="Liberation Sans, Arial, sans-serif" font-size="23" stroke="#000" stroke-width="0.3">2200</text>
<text transform="translate(587.66,696.2) rotate(-45)" text-anchor="end" font-family="Liberation Sans, Arial, sans-serif" font-size="23" stroke="#000" stroke-width="0.3">2600</text>
<polyline points="93.7,667.9 104.81,667.9 115.93,667.9 127.04,667.9 138.15,667.9 149.26,667.9 160.38,667.9 171.49,667.9 182.6,667.9 193.71,667.9 204.83,667.9 215.94,667.9 227.05,667.9 238.17,667.9 249.28,667.9 260.39,667.9 271.5,667.9 282.62,667.9 293.73,667.9 304.84,667.9 315.96,667.9 327.07,667.9 338.18,667.9 349.29,667.9 360.41,667.9 371.52,667.9 382.63,667.9 393.74,667.9 404.86,667.9 415.97,667.9 427.08,667.9 438.2,667.9 449.31,667.9 460.42,667.9 471.53,667.9 482.65,667.9 493.76,667.9 504.87,667.9 515.99,667.9 527.1,667.9 538.21,667.9 549.32,667.9 560.44,667.9 571.55,667.9 582.66,667.9 593.77,667.9 604.89,667.9 616,667.9" fill="none" stroke="#000" stroke-width="4" stroke-linejoin="round"/>
<path d="M86.8 660.8h13.8v14.5h-13.8zM97.91 660.8h13.8v14.5h-13.8zM109.03 660.8h13.8v14.5h-13.8zM120.14 660.8h13.8v14.5h-13.8zM131.25 660.8h13.8v14.5h-13.8zM142.36 660.8h13.8v14.5h-13.8zM153.48 660.8h13.8v14.5h-13.8zM164.59 660.8h13.8v14.5h-13.8zM175.7 660.8h13.8v14.5h-13.8zM186.81 660.8h13.8v14.5h-13.8zM197.93 660.8h13.8v14.5h-13.8zM209.04 660.8h13.8v14.5h-13.8zM220.15 660.8h13.8v14.5h-13.8zM231.27 660.8h13.8v14.5h-13.8zM242.38 660.8h13.8v14.5h-13.8zM253.49 660.8h13.8v14.5h-13.8zM264.6 660.8h13.8v14.5h-13.8zM275.72 660.8h13.8v14.5h-13.8zM286.83 660.8h13.8v14.5h-13.8zM297.94 660.8h13.8v14.5h-13.8zM309.06 660.8h13.8v14.5h-13.8zM320.17 660.8h13.8v14.5h-13.8zM331.28 660.8h13.8v14.5h-13.8zM342.39 660.8h13.8v14.5h-13.8zM353.51 660.8h13.8v14.5h-13.8zM364.62 660.8h13.8v14.5h-13.8zM375.73 660.8h13.8v14.5h-13.8zM386.84 660.8h13.8v14.5h-13.8zM397.96 660.8h13.8v14.5h-13.8zM409.07 660.8h13.8v14.5h-13.8zM420.18 660.8h13.8v14.5h-13.8zM431.3 660.8h13.8v14.5h-13.8zM442.41 660.8h13.8v14.5h-13.8zM453.52 660.8h13.8v14.5h-13.8zM464.63 660.8h13.8v14.5h-13.8zM475.75 660.8h13.8v14.5h-13.8zM486.86 660.8h13.8v14.5h-13.8zM497.97 660.8h13.8v14.5h-13.8zM509.09 660.8h13.8v14.5h-13.8zM520.2 660.8h13.8v14.5h-13.8zM531.31 660.8h13.8v14.5h-13.8zM542.42 660.8h13.8v14.5h-13.8zM553.54 660.8h13.8v14.5h-13.8zM564.65 660.8h13.8v14.5h-13.8zM575.76 660.8h13.8v14.5h-13.8zM586.87 660.8h13.8v14.5h-13.8zM597.99 660.8h13.8v14.5h-13.8zM609.1 660.8h13.8v14.5h-13.8z" fill="#000"/><path d="M89.5 672.5h8.4M100.61 672.5h8.4M111.73 672.5h8.4M122.84 672.5h8.4M133.95 672.5h8.4M145.06 672.5h8.4M156.18 672.5h8.4M167.29 672.5h8.4M178.4 672.5h8.4M189.51 672.5h8.4M200.63 672.5h8.4M211.74 672.5h8.4M222.85 672.5h8.4M233.97 672.5h8.4M245.08 672.5h8.4M256.19 672.5h8.4M267.3 672.5h8.4M278.42 672.5h8.4M289.53 672.5h8.4M300.64 672.5h8.4M311.76 672.5h8.4M322.87 672.5h8.4M333.98 672.5h8.4M345.09 672.5h8.4M356.21 672.5h8.4M367.32 672.5h8.4M378.43 672.5h8.4M389.54 672.5h8.4M400.66 672.5h8.4M411.77 672.5h8.4M422.88 672.5h8.4M434 672.5h8.4M445.11 672.5h8.4M456.22 672.5h8.4M467.33 672.5h8.4M478.45 672.5h8.4M489.56 672.5h8.4M500.67 672.5h8.4M511.79 672.5h8.4M522.9 672.5h8.4M534.01 672.5h8.4M545.12 672.5h8.4M556.24 672.5h8.4M567.35 672.5h8.4M578.46 672.5h8.4M589.57 672.5h8.4M600.69 672.5h8.4M611.8 672.5h8.4" stroke="#484848" stroke-width="0.85" fill="none"/>
<polyline points="93.7,667.9 104.81,667.9 115.93,667.9 127.04,667.9 138.15,667.9 149.26,667.9 160.38,667.9 171.49,667.9 182.6,667.9 193.71,667.9 204.83,667.9 215.94,667.9 227.05,667.9 238.17,667.9 249.28,667.9 260.39,667.9 271.5,667.9 282.62,667.9 293.73,667.9 304.84,667.9 315.96,667.9 327.07,667.9 338.18,667.9 349.29,667.9 360.41,667.9 371.52,667.9 382.63,667.9 393.74,667.9 404.86,667.9 415.97,667.9 427.08,667.9 438.2,667.9 449.31,667.9 460.42,667.9 471.53,667.9 482.65,667.9 493.76,667.9 504.87,667.9 515.99,667.9 527.1,667.9 538.21,667.9 549.32,667.9 560.44,667.9 571.55,667.9 582.66,667.9 593.77,667.9 604.89,667.9 616,667.9" fill="none" stroke="#0000ff" stroke-width="4.3" stroke-linejoin="round"/>
<path d="M86.75 667.9l6.95 -6.95l6.95 6.95l-6.95 6.95zM97.86 667.9l6.95 -6.95l6.95 6.95l-6.95 6.95zM108.98 667.9l6.95 -6.95l6.95 6.95l-6.95 6.95zM120.09 667.9l6.95 -6.95l6.95 6.95l-6.95 6.95zM131.2 667.9l6.95 -6.95l6.95 6.95l-6.95 6.95zM142.31 667.9l6.95 -6.95l6.95 6.95l-6.95 6.95zM153.43 667.9l6.95 -6.95l6.95 6.95l-6.95 6.95zM164.54 667.9l6.95 -6.95l6.95 6.95l-6.95 6.95zM175.65 667.9l6.95 -6.95l6.95 6.95l-6.95 6.95zM186.76 667.9l6.95 -6.95l6.95 6.95l-6.95 6.95zM197.88 667.9l6.95 -6.95l6.95 6.95l-6.95 6.95zM208.99 667.9l6.95 -6.95l6.95 6.95l-6.95 6.95zM220.1 667.9l6.95 -6.95l6.95 6.95l-6.95 6.95zM231.22 667.9l6.95 -6.95l6.95 6.95l-6.95 6.95zM242.33 667.9l6.95 -6.95l6.95 6.95l-6.95 6.95zM253.44 667.9l6.95 -6.95l6.95 6.95l-6.95 6.95zM264.55 667.9l6.95 -6.95l6.95 6.95l-6.95 6.95zM275.67 667.9l6.95 -6.95l6.95 6.95l-6.95 6.95zM286.78 667.9l6.95 -6.95l6.95 6.95l-6.95 6.95zM297.89 667.9l6.95 -6.95l6.95 6.95l-6.95 6.95zM309.01 667.9l6.95 -6.95l6.95 6.95l-6.95 6.95zM320.12 667.9l6.95 -6.95l6.95 6.95l-6.95 6.95zM331.23 667.9l6.95 -6.95l6.95 6.95l-6.95 6.95zM342.34 667.9l6.95 -6.95l6.95 6.95l-6.95 6.95zM353.46 667.9l6.95 -6.95l6.95 6.95l-6.95 6.95zM364.57 667.9l6.95 -6.95l6.95 6.95l-6.95 6.95zM375.68 667.9l6.95 -6.95l6.95 6.95l-6.95 6.95zM386.79 667.9l6.95 -6.95l6.95 6.95l-6.95 6.95zM397.91 667.9l6.95 -6.95l6.95 6.95l-6.95 6.95zM409.02 667.9l6.95 -6.95l6.95 6.95l-6.95 6.95zM420.13 667.9l6.95 -6.95l6.95 6.95l-6.95 6.95zM431.25 667.9l6.95 -6.95l6.95 6.95l-6.95 6.95zM442.36 667.9l6.95 -6.95l6.95 6.95l-6.95 6.95zM453.47 667.9l6.95 -6.95l6.95 6.95l-6.95 6.95zM464.58 667.9l6.95 -6.95l6.95 6.95l-6.95 6.95zM475.7 667.9l6.95 -6.95l6.95 6.95l-6.95 6.95zM486.81 667.9l6.95 -6.95l6.95 6.95l-6.95 6.95zM497.92 667.9l6.95 -6.95l6.95 6.95l-6.95 6.95zM509.04 667.9l6.95 -6.95l6.95 6.95l-6.95 6.95zM520.15 667.9l6.95 -6.95l6.95 6.95l-6.95 6.95zM531.26 667.9l6.95 -6.95l6.95 6.95l-6.95 6.95zM542.37 667.9l6.95 -6.95l6.95 6.95l-6.95 6.95zM553.49 667.9l6.95 -6.95l6.95 6.95l-6.95 6.95zM564.6 667.9l6.95 -6.95l6.95 6.95l-6.95 6.95zM575.71 667.9l6.95 -6.95l6.95 6.95l-6.95 6.95zM586.82 667.9l6.95 -6.95l6.95 6.95l-6.95 6.95zM597.94 667.9l6.95 -6.95l6.95 6.95l-6.95 6.95zM609.05 667.9l6.95 -6.95l6.95 6.95l-6.95 6.95z" fill="#0000ff"/>
<line x1="225.7" y1="522.05" x2="265.8" y2="522.05" stroke="#000" stroke-width="3.5"/>
<rect x="237.7" y="514.05" width="16" height="16" fill="#000"/>
<text x="276.6" y="529.45" font-family="Liberation Serif, Times New Roman, serif" font-style="italic" font-size="22.1">ACC(k)</text>
<line x1="225.7" y1="552.95" x2="265.8" y2="552.95" stroke="#0000ff" stroke-width="3.5"/>
<path d="M237.1 552.95l8.6 -8.1l8.6 8.1l-8.6 8.1z" fill="#0000ff"/>
<text x="272.25" y="560.35" font-family="Liberation Sans, Arial, sans-serif" font-size="21.1">Significant voxels</text>
<text transform="translate(234.96,423.7) scale(1.0057,1)" font-family="Liberation Sans, Arial, sans-serif" font-weight="bold" font-size="28.15">Predicting</text>
<text transform="translate(381.59,423.7) scale(0.9840,1)" font-family="Liberation Sans, Arial, sans-serif" font-weight="bold" font-size="28.15">CNEC</text>
<text transform="translate(460.64,430.4) scale(1.0005,1)" font-family="Liberation Sans, Arial, sans-serif" font-weight="bold" font-size="19">+</text>
<text transform="translate(21.9,563.4) rotate(-90)" text-anchor="middle" font-family="Liberation Serif, Times New Roman, serif" font-style="italic" font-size="28.2" letter-spacing="0.5">ACC(k)</text>
<text x="340.3" y="779" font-family="Liberation Serif, Times New Roman, serif" font-style="italic" font-size="34.5">k</text>
<text transform="translate(698.6,558.7) rotate(90)" text-anchor="middle" font-family="Liberation Sans, Arial, sans-serif" font-size="28.3">Voxels</text>
<line x1="850.2" y1="675.1" x2="1379.3" y2="675.1" stroke="#adadad" stroke-width="1.25"/>
<line x1="850.2" y1="629.84" x2="1379.3" y2="629.84" stroke="#adadad" stroke-width="1.25"/>
<line x1="850.2" y1="584.58" x2="1379.3" y2="584.58" stroke="#adadad" stroke-width="1.25"/>
<line x1="850.2" y1="539.32" x2="1379.3" y2="539.32" stroke="#adadad" stroke-width="1.25"/>
<line x1="850.2" y1="494.06" x2="1379.3" y2="494.06" stroke="#adadad" stroke-width="1.25"/>
<line x1="850.2" y1="448.8" x2="1379.3" y2="448.8" stroke="#adadad" stroke-width="1.25"/>
<line x1="858.7" y1="448.8" x2="858.7" y2="675.1" stroke="#adadad" stroke-width="1.25"/>
<line x1="1379.3" y1="448.8" x2="1379.3" y2="675.1" stroke="#adadad" stroke-width="1.25"/>
<path d="M858.7 675.1v7.5M869.78 675.1v7.5M880.85 675.1v7.5M891.93 675.1v7.5M903.01 675.1v7.5M914.08 675.1v7.5M925.16 675.1v7.5M936.24 675.1v7.5M947.31 675.1v7.5M958.39 675.1v7.5M969.47 675.1v7.5M980.54 675.1v7.5M991.62 675.1v7.5M1002.7 675.1v7.5M1013.77 675.1v7.5M1024.85 675.1v7.5M1035.93 675.1v7.5M1047 675.1v7.5M1058.08 675.1v7.5M1069.16 675.1v7.5M1080.23 675.1v7.5M1091.31 675.1v7.5M1102.39 675.1v7.5M1113.46 675.1v7.5M1124.54 675.1v7.5M1135.61 675.1v7.5M1146.69 675.1v7.5M1157.77 675.1v7.5M1168.84 675.1v7.5M1179.92 675.1v7.5M1191 675.1v7.5M1202.07 675.1v7.5M1213.15 675.1v7.5M1224.23 675.1v7.5M1235.3 675.1v7.5M1246.38 675.1v7.5M1257.46 675.1v7.5M1268.53 675.1v7.5M1279.61 675.1v7.5M1290.69 675.1v7.5M1301.76 675.1v7.5M1312.84 675.1v7.5M1323.92 675.1v7.5M1334.99 675.1v7.5M1346.07 675.1v7.5M1357.15 675.1v7.5M1368.22 675.1v7.5M1379.3 675.1v7.5" stroke="#b0b0b0" stroke-width="1.45" fill="none"/>
<path d="M1379.3 675.1h8M1379.3 655.48h8M1379.3 635.86h8M1379.3 616.24h8M1379.3 596.62h8M1379.3 577h8M1379.3 557.38h8M1379.3 537.76h8M1379.3 518.14h8M1379.3 498.52h8M1379.3 478.9h8M1379.3 459.28h8" stroke="#b0b0b0" stroke-width="1.45" fill="none"/>
<text x="845.2" y="682.8" text-anchor="end" font-family="Liberation Sans, Arial, sans-serif" font-weight="bold" font-size="24.5">0</text>
<text x="845.2" y="637.54" text-anchor="end" font-family="Liberation Sans, Arial, sans-serif" font-weight="bold" font-size="24.5">0.2</text>
<text x="845.2" y="592.28" text-anchor="end" font-family="Liberation Sans, Arial, sans-serif" font-weight="bold" font-size="24.5">0.4</text>
<text x="845.2" y="547.02" text-anchor="end" font-family="Liberation Sans, Arial, sans-serif" font-weight="bold" font-size="24.5">0.6</text>
<text x="845.2" y="501.76" text-anchor="end" font-family="Liberation Sans, Arial, sans-serif" font-weight="bold" font-size="24.5">0.8</text>
<text x="845.2" y="456.5" text-anchor="end" font-family="Liberation Sans, Arial, sans-serif" font-weight="bold" font-size="24.5">1</text>
<text x="1392.1" y="683.1" font-family="Liberation Sans, Arial, sans-serif" font-weight="bold" font-size="24" fill="#0000ff">0</text>
<text x="1392.1" y="643.86" font-family="Liberation Sans, Arial, sans-serif" font-weight="bold" font-size="24" fill="#0000ff">4000</text>
<text x="1392.1" y="604.62" font-family="Liberation Sans, Arial, sans-serif" font-weight="bold" font-size="24" fill="#0000ff">8000</text>
<text x="1392.1" y="565.38" font-family="Liberation Sans, Arial, sans-serif" font-weight="bold" font-size="24" fill="#0000ff">12000</text>
<text x="1392.1" y="526.14" font-family="Liberation Sans, Arial, sans-serif" font-weight="bold" font-size="24" fill="#0000ff">16000</text>
<text x="1392.1" y="486.9" font-family="Liberation Sans, Arial, sans-serif" font-weight="bold" font-size="24" fill="#0000ff">20000</text>
<text transform="translate(863.9,702.2) rotate(-45)" text-anchor="end" font-family="Liberation Sans, Arial, sans-serif" font-size="23" stroke="#000" stroke-width="0.3">1</text>
<text transform="translate(908.21,702.2) rotate(-45)" text-anchor="end" font-family="Liberation Sans, Arial, sans-serif" font-size="23" stroke="#000" stroke-width="0.3">40</text>
<text transform="translate(952.51,702.2) rotate(-45)" text-anchor="end" font-family="Liberation Sans, Arial, sans-serif" font-size="23" stroke="#000" stroke-width="0.3">80</text>
<text transform="translate(996.82,702.2) rotate(-45)" text-anchor="end" font-family="Liberation Sans, Arial, sans-serif" font-size="23" stroke="#000" stroke-width="0.3">120</text>
<text transform="translate(1041.13,702.2) rotate(-45)" text-anchor="end" font-family="Liberation Sans, Arial, sans-serif" font-size="23" stroke="#000" stroke-width="0.3">160</text>
<text transform="translate(1085.43,702.2) rotate(-45)" text-anchor="end" font-family="Liberation Sans, Arial, sans-serif" font-size="23" stroke="#000" stroke-width="0.3">200</text>
<text transform="translate(1129.74,702.2) rotate(-45)" text-anchor="end" font-family="Liberation Sans, Arial, sans-serif" font-size="23" stroke="#000" stroke-width="0.3">600</text>
<text transform="translate(1174.04,702.2) rotate(-45)" text-anchor="end" font-family="Liberation Sans, Arial, sans-serif" font-size="23" stroke="#000" stroke-width="0.3">1000</text>
<text transform="translate(1218.35,702.2) rotate(-45)" text-anchor="end" font-family="Liberation Sans, Arial, sans-serif" font-size="23" stroke="#000" stroke-width="0.3">1400</text>
<text transform="translate(1262.66,702.2) rotate(-45)" text-anchor="end" font-family="Liberation Sans, Arial, sans-serif" font-size="23" stroke="#000" stroke-width="0.3">1800</text>
<text transform="translate(1306.96,702.2) rotate(-45)" text-anchor="end" font-family="Liberation Sans, Arial, sans-serif" font-size="23" stroke="#000" stroke-width="0.3">2200</text>
<text transform="translate(1351.27,702.2) rotate(-45)" text-anchor="end" font-family="Liberation Sans, Arial, sans-serif" font-size="23" stroke="#000" stroke-width="0.3">2600</text>
<polyline points="858.7,675.1 869.78,643.42 880.85,639.34 891.93,627.58 903.01,597.48 914.08,588.43 925.16,580.51 936.24,575.53 947.31,575.08 958.39,581.41 969.47,587.52 980.54,590.46 991.62,588.43 1002.7,586.16 1013.77,584.13 1024.85,582.54 1035.93,581.19 1047,579.83 1058.08,578.47 1069.16,577.11 1080.23,575.98 1091.31,571.45 1102.39,569.87 1113.46,573.04 1124.54,573.94 1135.61,571.68 1146.69,568.97 1157.77,563.31 1168.84,553.12 1179.92,548.37 1191,538.87 1202.07,534.57 1213.15,528.23 1224.23,520.76 1235.3,517.82 1246.38,515.78 1257.46,513.3 1268.53,507.86 1279.61,504.7 1290.69,505.15 1301.76,507.86 1312.84,517.14 1323.92,519.18 1334.99,522.12 1346.07,512.16 1357.15,469.85 1368.22,464.64 1379.3,463.96" fill="none" stroke="#000" stroke-width="4" stroke-linejoin="round"/>
<path d="M851.8 668h13.8v14.5h-13.8zM862.88 636.32h13.8v14.5h-13.8zM873.95 632.24h13.8v14.5h-13.8zM885.03 620.48h13.8v14.5h-13.8zM896.11 590.38h13.8v14.5h-13.8zM907.18 581.33h13.8v14.5h-13.8zM918.26 573.41h13.8v14.5h-13.8zM929.34 568.43h13.8v14.5h-13.8zM940.41 567.98h13.8v14.5h-13.8zM951.49 574.31h13.8v14.5h-13.8zM962.57 580.42h13.8v14.5h-13.8zM973.64 583.36h13.8v14.5h-13.8zM984.72 581.33h13.8v14.5h-13.8zM995.8 579.06h13.8v14.5h-13.8zM1006.87 577.03h13.8v14.5h-13.8zM1017.95 575.44h13.8v14.5h-13.8zM1029.03 574.09h13.8v14.5h-13.8zM1040.1 572.73h13.8v14.5h-13.8zM1051.18 571.37h13.8v14.5h-13.8zM1062.26 570.01h13.8v14.5h-13.8zM1073.33 568.88h13.8v14.5h-13.8zM1084.41 564.35h13.8v14.5h-13.8zM1095.49 562.77h13.8v14.5h-13.8zM1106.56 565.94h13.8v14.5h-13.8zM1117.64 566.84h13.8v14.5h-13.8zM1128.71 564.58h13.8v14.5h-13.8zM1139.79 561.87h13.8v14.5h-13.8zM1150.87 556.21h13.8v14.5h-13.8zM1161.94 546.02h13.8v14.5h-13.8zM1173.02 541.27h13.8v14.5h-13.8zM1184.1 531.77h13.8v14.5h-13.8zM1195.17 527.47h13.8v14.5h-13.8zM1206.25 521.13h13.8v14.5h-13.8zM1217.33 513.66h13.8v14.5h-13.8zM1228.4 510.72h13.8v14.5h-13.8zM1239.48 508.68h13.8v14.5h-13.8zM1250.56 506.2h13.8v14.5h-13.8zM1261.63 500.76h13.8v14.5h-13.8zM1272.71 497.6h13.8v14.5h-13.8zM1283.79 498.05h13.8v14.5h-13.8zM1294.86 500.76h13.8v14.5h-13.8zM1305.94 510.04h13.8v14.5h-13.8zM1317.02 512.08h13.8v14.5h-13.8zM1328.09 515.02h13.8v14.5h-13.8zM1339.17 505.06h13.8v14.5h-13.8zM1350.25 462.75h13.8v14.5h-13.8zM1361.32 457.54h13.8v14.5h-13.8zM1372.4 456.86h13.8v14.5h-13.8z" fill="#000"/><path d="M854.5 679.7h8.4M865.58 648.02h8.4M876.65 643.94h8.4M887.73 632.18h8.4M898.81 602.08h8.4M909.88 593.03h8.4M920.96 585.11h8.4M932.04 580.13h8.4M943.11 579.68h8.4M954.19 586.01h8.4M965.27 592.12h8.4M976.34 595.06h8.4M987.42 593.03h8.4M998.5 590.76h8.4M1009.57 588.73h8.4M1020.65 587.14h8.4M1031.73 585.79h8.4M1042.8 584.43h8.4M1053.88 583.07h8.4M1064.96 581.71h8.4M1076.03 580.58h8.4M1087.11 576.05h8.4M1098.19 574.47h8.4M1109.26 577.64h8.4M1120.34 578.54h8.4M1131.41 576.28h8.4M1142.49 573.57h8.4M1153.57 567.91h8.4M1164.64 557.72h8.4M1175.72 552.97h8.4M1186.8 543.47h8.4M1197.87 539.17h8.4M1208.95 532.83h8.4M1220.03 525.36h8.4M1231.1 522.42h8.4M1242.18 520.38h8.4M1253.26 517.9h8.4M1264.33 512.46h8.4M1275.41 509.3h8.4M1286.49 509.75h8.4M1297.56 512.46h8.4M1308.64 521.74h8.4M1319.72 523.78h8.4M1330.79 526.72h8.4M1341.87 516.76h8.4M1352.95 474.45h8.4M1364.02 469.24h8.4M1375.1 468.56h8.4" stroke="#484848" stroke-width="0.85" fill="none"/>
<polyline points="858.7,675.1 869.78,483.9 880.85,470.14 891.93,463.38 903.01,458.88 914.08,455.13 925.16,452.62 936.24,455.13 947.31,462.63 958.39,477.64 969.47,493.92 980.54,502.67 991.62,507.68 1002.7,511.43 1013.77,513.43 1024.85,515.69 1035.93,518.94 1047,521.44 1058.08,523.95 1069.16,526.95 1080.23,530.2 1091.31,547.22 1102.39,561.93 1113.46,572.42 1124.54,577.92 1135.61,581.09 1146.69,582.49 1157.77,583.69 1168.84,585.09 1179.92,589.1 1191,594.13 1202.07,601.14 1213.15,605.15 1224.23,610.77 1235.3,616.19 1246.38,622.21 1257.46,627.63 1268.53,632.64 1279.61,637.65 1290.69,642.28 1301.76,648.29 1312.84,654.31 1323.92,657.74 1334.99,660.93 1346.07,664.34 1357.15,668.35 1368.22,669.35 1379.3,670.39" fill="none" stroke="#0000ff" stroke-width="4.3" stroke-linejoin="round"/>
<path d="M851.75 675.1l6.95 -6.95l6.95 6.95l-6.95 6.95zM862.83 483.9l6.95 -6.95l6.95 6.95l-6.95 6.95zM873.9 470.14l6.95 -6.95l6.95 6.95l-6.95 6.95zM884.98 463.38l6.95 -6.95l6.95 6.95l-6.95 6.95zM896.06 458.88l6.95 -6.95l6.95 6.95l-6.95 6.95zM907.13 455.13l6.95 -6.95l6.95 6.95l-6.95 6.95zM918.21 452.62l6.95 -6.95l6.95 6.95l-6.95 6.95zM929.29 455.13l6.95 -6.95l6.95 6.95l-6.95 6.95zM940.36 462.63l6.95 -6.95l6.95 6.95l-6.95 6.95zM951.44 477.64l6.95 -6.95l6.95 6.95l-6.95 6.95zM962.52 493.92l6.95 -6.95l6.95 6.95l-6.95 6.95zM973.59 502.67l6.95 -6.95l6.95 6.95l-6.95 6.95zM984.67 507.68l6.95 -6.95l6.95 6.95l-6.95 6.95zM995.75 511.43l6.95 -6.95l6.95 6.95l-6.95 6.95zM1006.82 513.43l6.95 -6.95l6.95 6.95l-6.95 6.95zM1017.9 515.69l6.95 -6.95l6.95 6.95l-6.95 6.95zM1028.98 518.94l6.95 -6.95l6.95 6.95l-6.95 6.95zM1040.05 521.44l6.95 -6.95l6.95 6.95l-6.95 6.95zM1051.13 523.95l6.95 -6.95l6.95 6.95l-6.95 6.95zM1062.21 526.95l6.95 -6.95l6.95 6.95l-6.95 6.95zM1073.28 530.2l6.95 -6.95l6.95 6.95l-6.95 6.95zM1084.36 547.22l6.95 -6.95l6.95 6.95l-6.95 6.95zM1095.44 561.93l6.95 -6.95l6.95 6.95l-6.95 6.95zM1106.51 572.42l6.95 -6.95l6.95 6.95l-6.95 6.95zM1117.59 577.92l6.95 -6.95l6.95 6.95l-6.95 6.95zM1128.66 581.09l6.95 -6.95l6.95 6.95l-6.95 6.95zM1139.74 582.49l6.95 -6.95l6.95 6.95l-6.95 6.95zM1150.82 583.69l6.95 -6.95l6.95 6.95l-6.95 6.95zM1161.89 585.09l6.95 -6.95l6.95 6.95l-6.95 6.95zM1172.97 589.1l6.95 -6.95l6.95 6.95l-6.95 6.95zM1184.05 594.13l6.95 -6.95l6.95 6.95l-6.95 6.95zM1195.12 601.14l6.95 -6.95l6.95 6.95l-6.95 6.95zM1206.2 605.15l6.95 -6.95l6.95 6.95l-6.95 6.95zM1217.28 610.77l6.95 -6.95l6.95 6.95l-6.95 6.95zM1228.35 616.19l6.95 -6.95l6.95 6.95l-6.95 6.95zM1239.43 622.21l6.95 -6.95l6.95 6.95l-6.95 6.95zM1250.51 627.63l6.95 -6.95l6.95 6.95l-6.95 6.95zM1261.58 632.64l6.95 -6.95l6.95 6.95l-6.95 6.95zM1272.66 637.65l6.95 -6.95l6.95 6.95l-6.95 6.95zM1283.74 642.28l6.95 -6.95l6.95 6.95l-6.95 6.95zM1294.81 648.29l6.95 -6.95l6.95 6.95l-6.95 6.95zM1305.89 654.31l6.95 -6.95l6.95 6.95l-6.95 6.95zM1316.97 657.74l6.95 -6.95l6.95 6.95l-6.95 6.95zM1328.04 660.93l6.95 -6.95l6.95 6.95l-6.95 6.95zM1339.12 664.34l6.95 -6.95l6.95 6.95l-6.95 6.95zM1350.2 668.35l6.95 -6.95l6.95 6.95l-6.95 6.95zM1361.27 669.35l6.95 -6.95l6.95 6.95l-6.95 6.95zM1372.35 670.39l6.95 -6.95l6.95 6.95l-6.95 6.95z" fill="#0000ff"/>
<line x1="1379.1" y1="458.7" x2="1379.1" y2="675.1" stroke="#00e400" stroke-width="4.4" stroke-dasharray="12.7 4.25"/>
<text transform="translate(1344.9,576.6) scale(1.08,1)" font-family="Liberation Serif, Times New Roman, serif" font-style="italic" font-size="28.7">k</text>
<text x="1360.5" y="582.5" font-family="Liberation Serif, Times New Roman, serif" font-style="italic" font-size="22.3" letter-spacing="2.3">opt</text>
<line x1="970.7" y1="616.85" x2="1010.8" y2="616.85" stroke="#000" stroke-width="3.5"/>
<rect x="982.7" y="608.85" width="16" height="16" fill="#000"/>
<text x="1021.6" y="624.25" font-family="Liberation Serif, Times New Roman, serif" font-style="italic" font-size="22.1">ACC(k)</text>
<line x1="970.7" y1="647.75" x2="1010.8" y2="647.75" stroke="#0000ff" stroke-width="3.5"/>
<path d="M982.1 647.75l8.6 -8.1l8.6 8.1l-8.6 8.1z" fill="#0000ff"/>
<text x="1017.25" y="655.15" font-family="Liberation Sans, Arial, sans-serif" font-size="21.1">Significant voxels</text>
<text transform="translate(1018.97,423.7) scale(0.9996,1)" font-family="Liberation Sans, Arial, sans-serif" font-weight="bold" font-size="28.15">Predicting</text>
<text transform="translate(1164.9,423.7) scale(0.9833,1)" font-family="Liberation Sans, Arial, sans-serif" font-weight="bold" font-size="28.15">MVP</text>
<text transform="translate(1225.82,430.4) scale(1.0316,1)" font-family="Liberation Sans, Arial, sans-serif" font-weight="bold" font-size="19">+</text>
<text transform="translate(788.4,563.4) rotate(-90)" text-anchor="middle" font-family="Liberation Serif, Times New Roman, serif" font-style="italic" font-size="28.2" letter-spacing="0.5">ACC(k)</text>
<text x="1112.5" y="779" font-family="Liberation Serif, Times New Roman, serif" font-style="italic" font-size="34.5">k</text>
<text transform="translate(1475.5,558.8) rotate(90)" text-anchor="middle" font-family="Liberation Sans, Arial, sans-serif" font-size="28.3">Voxels</text>
</svg>
</body></html>
